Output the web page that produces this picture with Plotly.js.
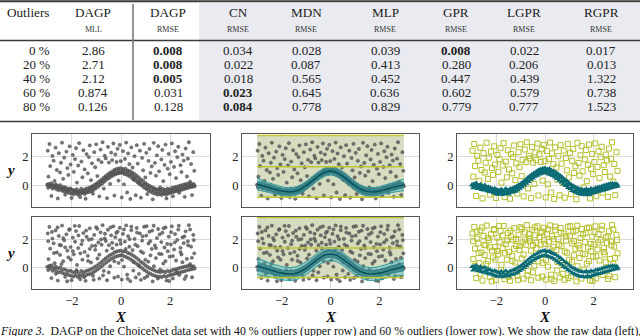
<!DOCTYPE html>
<html>
<head>
<meta charset="utf-8">
<script src="https://cdn.plot.ly/plotly-3.0.1.min.js"></script>
<style>
  html, body { margin: 0; padding: 0; background: #fff; }
  #plot { width: 640px; height: 336px; }
</style>
</head>
<body>
<div id="plot"></div>
<script>
// Table values
const outlierPct = ['0 %', '20 %', '40 %', '60 %', '80 %'];
const colNames = ['DAGP', 'DAGP', 'CN', 'MDN', 'MLP', 'GPR', 'LGPR', 'RGPR'];
const colMetric = ['MLL', 'RMSE', 'RMSE', 'RMSE', 'RMSE', 'RMSE', 'RMSE', 'RMSE'];
const dagpMLL = ['2.86', '2.71', '2.12', '0.874', '0.126'];
const dagpRMSE = ['0.008', '0.008', '0.005', '0.031', '0.128'];
const cnRMSE = ['0.034', '0.022', '0.018', '0.023', '0.084'];
const mdnRMSE = ['0.028', '0.087', '0.565', '0.645', '0.778'];
const mlpRMSE = ['0.039', '0.413', '0.452', '0.636', '0.829'];
const gprRMSE = ['0.008', '0.280', '0.447', '0.602', '0.779'];
const lgprRMSE = ['0.022', '0.206', '0.439', '0.579', '0.777'];
const rgprRMSE = ['0.017', '0.013', '1.322', '0.738', '1.523'];
// [column, row] of the bold (best) entries
const bestCells = [[1, 0], [1, 1], [1, 2], [2, 3], [2, 4], [5, 0]];

// Scatter data: inliers around the curve, outliers spread over the box
const inliersA = [
  [-3.00,0.08],[-2.96,-0.15],[-2.92,0.12],[-2.87,-0.05],[-2.83,0.17],[-2.78,-0.21],[-2.74,0.03],[-2.69,-0.12],
  [-2.65,0.09],[-2.61,-0.27],[-2.56,-0.02],[-2.52,-0.31],[-2.47,0.04],[-2.43,-0.20],[-2.38,-0.36],[-2.34,-0.08],
  [-2.29,-0.41],[-2.25,-0.13],[-2.20,-0.44],[-2.16,-0.22],[-2.11,-0.50],[-2.07,-0.19],[-2.02,-0.55],[-1.98,-0.27],
  [-1.93,-0.60],[-1.89,-0.33],[-1.84,-0.52],[-1.80,-0.24],[-1.75,-0.63],[-1.71,-0.38],[-1.66,-0.57],[-1.62,-0.21],
  [-1.57,-0.49],[-1.53,-0.31],[-1.48,-0.58],[-1.44,-0.22],[-1.39,-0.47],[-1.35,-0.18],[-1.30,-0.44],[-1.26,-0.12],
  [-1.21,-0.39],[-1.17,-0.04],[-1.12,-0.30],[-1.08,0.06],[-1.03,-0.19],[-0.99,0.15],[-0.94,-0.09],[-0.90,0.27],
  [-0.85,0.04],[-0.81,0.39],[-0.76,0.15],[-0.72,0.53],[-0.67,0.28],[-0.63,0.66],[-0.58,0.41],[-0.54,0.78],
  [-0.49,0.52],[-0.45,0.89],[-0.40,0.63],[-0.36,0.97],[-0.31,0.71],[-0.27,1.08],[-0.22,0.79],[-0.18,1.15],
  [-0.13,0.84],[-0.09,1.19],[-0.04,0.87],[0.00,1.21],[0.04,0.90],[0.09,1.14],[0.13,0.81],[0.18,1.17],
  [0.22,0.76],[0.27,1.06],[0.31,0.68],[0.36,1.00],[0.40,0.59],[0.45,0.92],[0.49,0.48],[0.54,0.81],
  [0.58,0.36],[0.63,0.70],[0.67,0.24],[0.72,0.57],[0.76,0.10],[0.81,0.43],[0.85,0.00],[0.90,0.33],
  [0.94,-0.14],[0.99,0.19],[1.03,-0.23],[1.08,0.07],[1.12,-0.35],[1.17,-0.02],[1.21,-0.42],[1.26,-0.10],
  [1.30,-0.50],[1.35,-0.17],[1.39,-0.55],[1.44,-0.24],[1.48,-0.61],[1.53,-0.26],[1.57,-0.60],[1.62,-0.29],
  [1.66,-0.64],[1.71,-0.23],[1.75,-0.56],[1.80,-0.30],[1.84,-0.62],[1.89,-0.20],[1.93,-0.54],[1.98,-0.25],
  [2.02,-0.49],[2.07,-0.16],[2.11,-0.45],[2.16,-0.12],[2.20,-0.40],[2.25,-0.09],[2.29,-0.37],[2.34,-0.03],
  [2.38,-0.33],[2.43,0.02],[2.47,-0.28],[2.52,0.05],[2.56,-0.24],[2.61,0.10],[2.65,-0.19],[2.69,0.12],
  [2.74,-0.14],[2.78,0.16],[2.83,-0.10],[2.87,0.13],[2.92,-0.07],[2.96,0.11],[3.00,-0.04]
];
const inliersB = [
  [-2.98,0.02],[-2.89,-0.06],[-2.80,-0.01],[-2.71,-0.10],[-2.62,-0.07],[-2.53,-0.18],[-2.44,-0.15],[-2.35,-0.25],
  [-2.26,-0.22],[-2.17,-0.33],[-2.08,-0.30],[-1.99,-0.41],[-1.90,-0.36],[-1.81,-0.46],[-1.72,-0.40],[-1.63,-0.47],
  [-1.54,-0.37],[-1.45,-0.42],[-1.36,-0.30],[-1.27,-0.31],[-1.18,-0.16],[-1.09,-0.14],[-1.00,0.05],[-0.91,0.08],
  [-0.82,0.30],[-0.73,0.33],[-0.64,0.53],[-0.55,0.57],[-0.46,0.75],[-0.37,0.77],[-0.28,0.93],[-0.19,0.90],
  [-0.10,1.03],[-0.01,0.97],[0.08,1.04],[0.17,0.92],[0.26,0.94],[0.35,0.78],[0.44,0.76],[0.53,0.58],
  [0.62,0.54],[0.71,0.34],[0.80,0.30],[0.89,0.09],[0.98,0.06],[1.07,-0.14],[1.16,-0.13],[1.25,-0.31],
  [1.34,-0.29],[1.43,-0.42],[1.52,-0.36],[1.61,-0.47],[1.70,-0.39],[1.79,-0.46],[1.88,-0.36],[1.97,-0.41],
  [2.06,-0.29],[2.15,-0.33],[2.24,-0.22],[2.33,-0.26],[2.42,-0.14],[2.51,-0.18],[2.60,-0.06],[2.69,-0.11],
  [2.78,-0.01],[2.87,-0.06],[2.96,0.03]
];
const outliersA = [
  [-2.98,2.41],[-2.95,0.62],[-2.91,2.87],[-2.88,1.35],[-2.83,-0.71],[-2.79,2.05],[-2.74,1.72],[-2.70,0.33],
  [-2.66,2.62],[-2.61,1.08],[-2.57,-0.88],[-2.53,2.24],[-2.48,0.91],[-2.44,1.58],[-2.40,2.96],[-2.35,0.47],
  [-2.31,1.93],[-2.27,-0.62],[-2.22,2.35],[-2.18,1.21],[-2.14,0.74],[-2.09,2.71],[-2.05,1.46],[-2.01,-0.85],
  [-1.96,2.12],[-1.92,0.95],[-1.87,1.83],[-1.83,2.58],[-1.79,0.21],[-1.74,1.39],[-1.70,2.93],[-1.66,-0.79],
  [-1.61,1.66],[-1.57,0.58],[-1.53,2.44],[-1.48,1.12],[-1.44,-0.90],[-1.40,2.18],[-1.35,0.85],[-1.31,1.97],
  [-1.27,2.77],[-1.22,0.38],[-1.18,1.54],[-1.14,-0.55],[-1.09,2.31],[-1.05,1.27],[-1.01,2.85],[-0.96,0.66],
  [-0.92,1.78],[-0.88,-0.74],[-0.83,2.49],[-0.79,1.62],[-0.75,2.99],[-0.70,-0.20],[-0.66,2.06],[-0.62,1.88],
  [-0.57,-0.86],[-0.53,2.67],[-0.49,1.59],[-0.44,0.12],[-0.40,2.28],[-0.36,1.76],[-0.31,2.91],[-0.27,-0.68],
  [-0.23,2.15],[-0.18,1.63],[-0.14,2.54],[-0.10,0.35],[-0.05,2.81],[-0.01,1.69],[0.03,-0.81],[0.08,2.38],
  [0.12,0.09],[0.16,1.84],[0.21,2.97],[0.25,-0.47],[0.29,2.22],[0.34,1.48],[0.38,-0.92],[0.42,2.64],
  [0.47,1.25],[0.51,0.41],[0.55,2.03],[0.60,-0.66],[0.64,2.79],[0.68,1.52],[0.73,0.18],[0.77,2.41],
  [0.81,-0.83],[0.86,1.91],[0.90,1.06],[0.94,2.88],[0.99,0.57],[1.03,2.26],[1.07,-0.58],[1.12,1.71],
  [1.16,2.53],[1.20,0.88],[1.25,1.33],[1.29,-0.94],[1.33,2.95],[1.38,1.57],[1.42,0.69],[1.46,2.09],
  [1.51,2.72],[1.55,0.99],[1.59,-0.12],[1.64,1.81],[1.68,2.46],[1.72,0.31],[1.77,1.43],[1.81,2.83],
  [1.85,-0.88],[1.90,1.17],[1.94,2.19],[1.98,0.79],[2.03,1.64],[2.07,2.91],[2.11,-0.73],[2.16,1.29],
  [2.20,2.37],[2.24,0.52],[2.29,1.96],[2.33,2.68],[2.37,-0.49],[2.42,1.41],[2.46,0.94],[2.50,2.14],
  [2.55,1.73],[2.59,-0.77],[2.63,2.56],[2.68,0.63],[2.72,1.86],[2.76,2.99],[2.81,0.27],[2.85,1.49],
  [2.89,-0.65],[2.94,2.31],[2.98,1.02]
];
const outliersB = [
  [-2.96,1.87],[-2.89,0.15],[-2.81,2.52],[-2.73,1.04],[-2.65,-0.41],[-2.58,2.83],[-2.50,1.61],[-2.42,0.27],
  [-2.35,2.09],[-2.27,1.44],[-2.19,-0.93],[-2.11,2.66],[-2.04,0.58],[-1.96,1.18],[-1.88,2.94],[-1.81,-0.16],
  [-1.73,2.27],[-1.65,1.02],[-1.57,1.91],[-1.50,-0.64],[-1.42,2.61],[-1.34,0.49],[-1.27,1.34],[-1.19,2.02],
  [-1.11,-0.83],[-1.04,1.55],[-0.96,2.73],[-0.88,0.93],[-0.81,1.99],[-0.73,-0.52],[-0.65,2.39],[-0.58,1.21],
  [-0.50,-0.31],[-0.42,2.84],[-0.35,1.37],[-0.27,0.46],[-0.19,2.45],[-0.12,-0.60],[-0.04,1.94],[0.04,0.55],
  [0.12,2.69],[0.19,1.33],[0.27,-0.76],[0.35,2.01],[0.42,2.89],[0.50,-0.18],[0.58,1.63],[0.65,2.47],
  [0.73,-0.41],[0.81,1.15],[0.88,2.21],[0.96,-0.70],[1.04,2.92],[1.11,0.44],[1.19,1.88],[1.27,2.61],
  [1.34,0.12],[1.42,1.39],[1.50,-0.74],[1.57,2.34],[1.65,0.96],[1.73,2.77],[1.81,0.48],[1.88,1.68],
  [1.96,-0.91],[2.04,2.50],[2.11,0.83],[2.19,1.79],[2.27,-0.28],[2.35,2.95],[2.42,1.11],[2.50,0.40],
  [2.58,2.20],[2.65,-0.57],[2.73,1.58],[2.81,2.69],[2.88,0.71],[2.96,1.95]
];

// DAGP predictive mean and band half-width (middle panels)
const gridX = [-3,-2.75,-2.5,-2.25,-2,-1.75,-1.5,-1.25,-1,-0.75,-0.5,-0.25,0,0.25,0.5,0.75,1,1.25,1.5,1.75,2,2.25,2.5,2.75,3];
const mean40 = [0.12,-0.02,-0.15,-0.26,-0.37,-0.43,-0.4,-0.26,0.0,0.33,0.66,0.91,1.02,0.91,0.66,0.33,0.0,-0.26,-0.4,-0.43,-0.37,-0.26,-0.15,-0.04,0.05];
const band40 = [0.40,0.36,0.33,0.31,0.30,0.29,0.29,0.29,0.29,0.29,0.29,0.29,0.29,0.29,0.29,0.29,0.29,0.29,0.29,0.29,0.30,0.31,0.33,0.36,0.40];
const mean60 = [0.12,-0.01,-0.13,-0.25,-0.36,-0.42,-0.4,-0.27,-0.02,0.3,0.63,0.89,0.98,0.89,0.63,0.3,-0.02,-0.27,-0.4,-0.42,-0.36,-0.25,-0.13,-0.02,0.08];
const band60 = [0.58,0.53,0.49,0.47,0.46,0.45,0.45,0.45,0.45,0.45,0.45,0.45,0.45,0.45,0.45,0.45,0.45,0.45,0.45,0.45,0.46,0.47,0.49,0.53,0.58];
// assignment levels (yellow lines) and their x extent
const levels40 = [-0.8, 1.31, 3.45];
const levels60 = [-0.67, 1.40, 3.52];
const levelSpan = [-3, 3];

const W = 640, H = 336;
const px = v => v / W;
const py = v => 1 - v / H;
const serif = 'Liberation Serif, Times New Roman, serif';

const teal = '#0b6b75';
const olive = '#c2c534';
const grayPt = 'rgba(95,95,95,0.85)';

function xs(p){ return p.map(d => d[0]); }
function ys(p){ return p.map(d => d[1]); }

const rows = [
  {inl: inliersA.concat(inliersB), out: outliersA, mean: mean40, band: band40, lev: levels40, ax: ['', '2', '3']},
  {inl: inliersA, out: outliersA.concat(outliersB), mean: mean60, band: band60, lev: levels60, ax: ['4', '5', '6']}
];

const traces = [];
rows.forEach(r => {
  const all = r.out.concat(r.inl);
  const [a1, a2, a3] = r.ax;
  // left: raw data
  traces.push({x: xs(all), y: ys(all), xaxis: 'x' + a1, yaxis: 'y' + a1, mode: 'markers', type: 'scatter',
    marker: {size: 3.3, color: grayPt, line: {width: 0.4, color: '#3a3a3a'}}, hoverinfo: 'skip'});

  // middle: DAGP fit
  const lo = r.lev[0], hi = r.lev[r.lev.length - 1];
  traces.push({x: [levelSpan[0], levelSpan[1], levelSpan[1], levelSpan[0]], y: [lo, lo, hi, hi],
    xaxis: 'x' + a2, yaxis: 'y' + a2, mode: 'lines', fill: 'toself', fillcolor: '#d5dcbf', line: {width: 0}, hoverinfo: 'skip'});
  traces.push({x: xs(all), y: ys(all), xaxis: 'x' + a2, yaxis: 'y' + a2, mode: 'markers', type: 'scatter',
    marker: {size: 3.3, color: grayPt, line: {width: 0.4, color: '#3a3a3a'}}, hoverinfo: 'skip'});
  const up2 = r.mean.map((m, i) => m + r.band[i]);
  const dn2 = r.mean.map((m, i) => m - r.band[i]);
  const up1 = r.mean.map((m, i) => m + 0.5 * r.band[i]);
  const dn1 = r.mean.map((m, i) => m - 0.5 * r.band[i]);
  traces.push({x: gridX, y: dn2, xaxis: 'x' + a2, yaxis: 'y' + a2, mode: 'lines', line: {color: '#2a9aa3', width: 1, shape: 'spline'}, hoverinfo: 'skip'});
  traces.push({x: gridX, y: up2, xaxis: 'x' + a2, yaxis: 'y' + a2, mode: 'lines', fill: 'tonexty', fillcolor: 'rgba(70,180,190,0.42)',
    line: {color: '#2a9aa3', width: 1, shape: 'spline'}, hoverinfo: 'skip'});
  traces.push({x: gridX, y: dn1, xaxis: 'x' + a2, yaxis: 'y' + a2, mode: 'lines', line: {color: '#1d7f88', width: 0.8, shape: 'spline'}, hoverinfo: 'skip'});
  traces.push({x: gridX, y: up1, xaxis: 'x' + a2, yaxis: 'y' + a2, mode: 'lines', fill: 'tonexty', fillcolor: 'rgba(40,150,160,0.35)',
    line: {color: '#1d7f88', width: 0.8, shape: 'spline'}, hoverinfo: 'skip'});
  traces.push({x: gridX, y: r.mean, xaxis: 'x' + a2, yaxis: 'y' + a2, mode: 'lines', line: {color: '#06525a', width: 1.6, shape: 'spline'}, hoverinfo: 'skip'});
  r.lev.forEach(l => {
    traces.push({x: levelSpan, y: [l, l], xaxis: 'x' + a2, yaxis: 'y' + a2, mode: 'lines', line: {color: olive, width: 1.5}, hoverinfo: 'skip'});
  });

  // right: assignment (outliers squares, inliers triangles)
  traces.push({x: xs(r.out), y: ys(r.out), xaxis: 'x' + a3, yaxis: 'y' + a3, mode: 'markers', type: 'scatter',
    marker: {symbol: 'square-open', size: 5, color: '#b6bf2c', line: {width: 1}}, hoverinfo: 'skip'});
  traces.push({x: xs(r.inl), y: ys(r.inl), xaxis: 'x' + a3, yaxis: 'y' + a3, mode: 'markers', type: 'scatter',
    marker: {symbol: 'triangle-up', size: 5.2, color: teal}, hoverinfo: 'skip'});
});

const layout = {
  width: W, height: H,
  margin: {l: 0, r: 0, t: 0, b: 0},
  paper_bgcolor: '#fff', plot_bgcolor: '#fff',
  showlegend: false,
  font: {family: serif, color: '#222', size: 12},
  shapes: [], annotations: []
};

// subplot frames in pixels
const colsPx = [[32, 210], [242, 419], [457, 633]];
const rowsPx = [[134, 207], [217, 289]];
const axNames = [['', '2', '3'], ['4', '5', '6']];
rowsPx.forEach((rp, ri) => {
  colsPx.forEach((cp, ci) => {
    const s = axNames[ri][ci];
    layout['xaxis' + s] = {
      domain: [px(cp[0]), px(cp[1])], anchor: 'y' + s, range: [-3.62, 3.62],
      tickvals: [-2, 0, 2], showticklabels: ri === 1, ticks: '', ticklen: 0,
      showgrid: true, gridcolor: '#dcdcdc', gridwidth: 1, zeroline: false,
      showline: true, mirror: true, linecolor: '#555', linewidth: 1,
      tickfont: {family: serif, size: 12.5, color: '#222'}
    };
    layout['yaxis' + s] = {
      domain: [py(rp[1]), py(rp[0])], anchor: 'x' + s, range: [-1.47, 3.56],
      tickvals: [0, 2], ticks: '', ticklen: 0,
      showgrid: true, gridcolor: '#dcdcdc', gridwidth: 1, zeroline: false,
      showline: true, mirror: true, linecolor: '#555', linewidth: 1,
      tickfont: {family: serif, size: 12.5, color: '#222'}
    };
  });
});

// text helper: annotations placed by pixel position
function label(text, x, y, size, opts){
  layout.annotations.push(Object.assign({text: text, xref: 'paper', yref: 'paper', x: px(x), y: py(y),
    xanchor: 'center', yanchor: 'middle', showarrow: false,
    font: {family: serif, size: size, color: '#222'}}, opts || {}));
}

// axis labels
[170, 253].forEach(yy => label('<b><i>y</i></b>', 10, yy, 15, {font: {family: serif, size: 15, color: '#111'}}));
[121, 331, 545].forEach(xx => label('<b><i>X</i></b>', xx, 317, 15, {font: {family: serif, size: 15, color: '#111'}}));

// table
const tableCols = [dagpMLL, dagpRMSE, cnRMSE, mdnRMSE, mlpRMSE, gprRMSE, lgprRMSE, rgprRMSE];
const colX = [93, 168, 238, 306, 385, 456, 524, 601];
const rowY = [50, 64, 78, 92, 106];
layout.shapes.push({type: 'rect', xref: 'paper', yref: 'paper', x0: px(199), x1: px(640), y0: py(121), y1: py(3),
  fillcolor: '#e9ebf1', line: {width: 0}, layer: 'below'});
layout.shapes.push({type: 'line', xref: 'paper', yref: 'paper', x0: 0, x1: 1, y0: py(1.2), y1: py(1.2), line: {color: '#3a3a3a', width: 2}});
layout.shapes.push({type: 'line', xref: 'paper', yref: 'paper', x0: 0, x1: 1, y0: py(40.5), y1: py(40.5), line: {color: '#3a3a3a', width: 1.6}});
layout.shapes.push({type: 'line', xref: 'paper', yref: 'paper', x0: 0, x1: 1, y0: py(121.5), y1: py(121.5), line: {color: '#3a3a3a', width: 1.6}});
layout.shapes.push({type: 'line', xref: 'paper', yref: 'paper', x0: px(133), x1: px(133), y0: py(4), y1: py(120), line: {color: '#7a7a7a', width: 1.6}});

label('Outliers', 28, 13, 13.2);
colNames.forEach((n, i) => {
  label(n, colX[i], 13, 13.2);
  label(colMetric[i], colX[i], 29.5, 8, {font: {family: serif, size: 8, color: '#333'}});
});
outlierPct.forEach((t, j) => label(t, 52, rowY[j], 13, {xanchor: 'right'}));
tableCols.forEach((col, i) => {
  col.forEach((v, j) => {
    const bold = bestCells.some(c => c[0] === i && c[1] === j);
    label(bold ? '<b>' + v + '</b>' : v, colX[i], rowY[j], 13);
  });
});

// caption (cut off at the bottom of the picture)
label('<i>Figure 3.</i>  DAGP on the ChoiceNet data set with 40 % outliers (upper row) and 60 % outliers (lower row). We show the raw data (left),',
  -2, 331, 11.85, {xanchor: 'left', font: {family: serif, size: 11.85, color: '#111'}});

Plotly.newPlot('plot', traces, layout, {displayModeBar: false, staticPlot: true});
</script>
</body>
</html>
